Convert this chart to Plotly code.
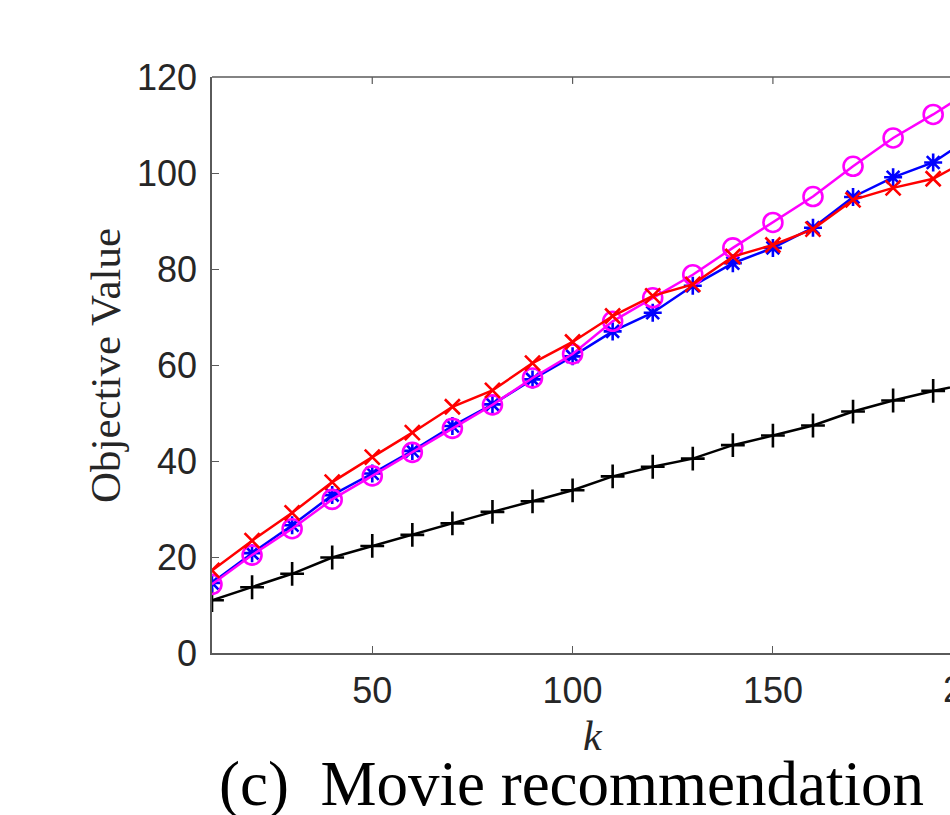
import plotly.graph_objects as go

k_values = [10, 20, 30, 40, 50, 60, 70, 80, 90, 100, 110, 120, 130, 140, 150, 160, 170, 180, 190, 200]
black_plus = [11.0, 13.7, 16.5, 19.9, 22.3, 24.6, 27.0, 29.4, 31.6, 33.9, 36.8, 38.8, 40.5, 43.3, 45.3, 47.4, 50.3, 52.6, 54.6, 56.3]
blue_star = [14.6, 20.8, 26.6, 32.9, 37.4, 42.1, 47.3, 51.8, 57.0, 61.8, 67.0, 70.9, 76.5, 81.2, 84.4, 88.6, 95.0, 99.1, 102.2, 107.7]
magenta_circle = [14.3, 20.4, 25.9, 32.0, 36.9, 41.8, 46.8, 51.7, 57.3, 62.3, 69.1, 74.0, 78.8, 84.4, 89.7, 95.1, 101.4, 107.3, 112.2, 117.5]
red_x = [17.2, 23.4, 29.2, 35.6, 40.8, 45.9, 51.3, 54.7, 60.4, 64.8, 70.2, 74.4, 76.8, 82.6, 85.0, 88.3, 94.4, 96.9, 98.8, 103.3]

x_ticks = [50, 100, 150]
y_ticks = [0, 20, 40, 60, 80, 100, 120]
x_range = [10, 194.2]

fig = go.Figure()

def add(y, color, symbol, size):
    fig.add_trace(go.Scatter(
        x=k_values, y=y, mode="lines+markers",
        line=dict(color=color, width=2.5),
        marker=dict(symbol=symbol, size=size, color=color,
                    line=dict(color=color, width=2.6)),
        showlegend=False,
    ))

add(black_plus, "#000000", "cross-thin-open", 17)
add(blue_star, "#0000FF", "asterisk-open", 15)
add(magenta_circle, "#FF00FF", "circle-open", 19)
add(red_x, "#FF0000", "x-thin-open", 15)

axis_color = "#5a5a5a"
tick_font = dict(family="Liberation Sans, Arial", size=36, color="#262626")
fig.update_xaxes(
    range=x_range, tickvals=x_ticks, ticks="inside", ticklen=7,
    tickcolor=axis_color, tickwidth=1.2, showline=True, linecolor=axis_color,
    linewidth=1.5, showgrid=False, zeroline=False,
    tickfont=tick_font, ticklabelstandoff=5,
)
fig.update_yaxes(
    range=[0, 120], tickvals=y_ticks, ticks="inside", ticklen=7,
    tickcolor=axis_color, tickwidth=1.2, showline=True, linecolor=axis_color,
    linewidth=1.5, showgrid=False, zeroline=False,
    tickfont=tick_font, ticklabelstandoff=6,
)

# top border line with inward ticks
fig.add_shape(type="line", xref="paper", yref="paper", x0=0, x1=1, y0=1, y1=1,
              line=dict(color=axis_color, width=1.5))
for xv in x_ticks:
    fig.add_shape(type="line", xref="x", yref="paper", x0=xv, x1=xv, y0=1, y1=0.988,
                  line=dict(color=axis_color, width=1.2))

# paper x of the (off-canvas) k=200 tick
x200_paper = (200 - x_range[0]) / (x_range[1] - x_range[0])

fig.update_layout(
    width=950, height=815,
    margin=dict(l=212, r=0, t=77, b=162),
    plot_bgcolor="white", paper_bgcolor="white",
    annotations=[
        dict(text="200", x=x200_paper, xref="paper", y=-0.024, yref="paper", yanchor="top",
             xanchor="center", showarrow=False, font=tick_font),
        dict(text="<i>k</i>", x=0.516, xref="paper", y=(653 - 736) / 576, yref="paper",
             xanchor="center", yanchor="middle", showarrow=False,
             font=dict(family="Liberation Serif, Times New Roman", size=42, color="#262626")),
        dict(text="(c)  Movie recommendation", x=0.4865, xref="paper",
             y=(653 - 784) / 576, yref="paper", xanchor="center", yanchor="middle",
             showarrow=False,
             font=dict(family="Liberation Serif, Times New Roman", size=63, color="#000000")),
        dict(text="Objective Value", x=(105 - 212) / 738, xref="paper", y=0.5, yref="paper",
             xanchor="center", yanchor="middle", textangle=-90, showarrow=False,
             font=dict(family="Liberation Serif, Times New Roman", size=43, color="#262626")),
    ],
)

fig.write_html("out.html")
